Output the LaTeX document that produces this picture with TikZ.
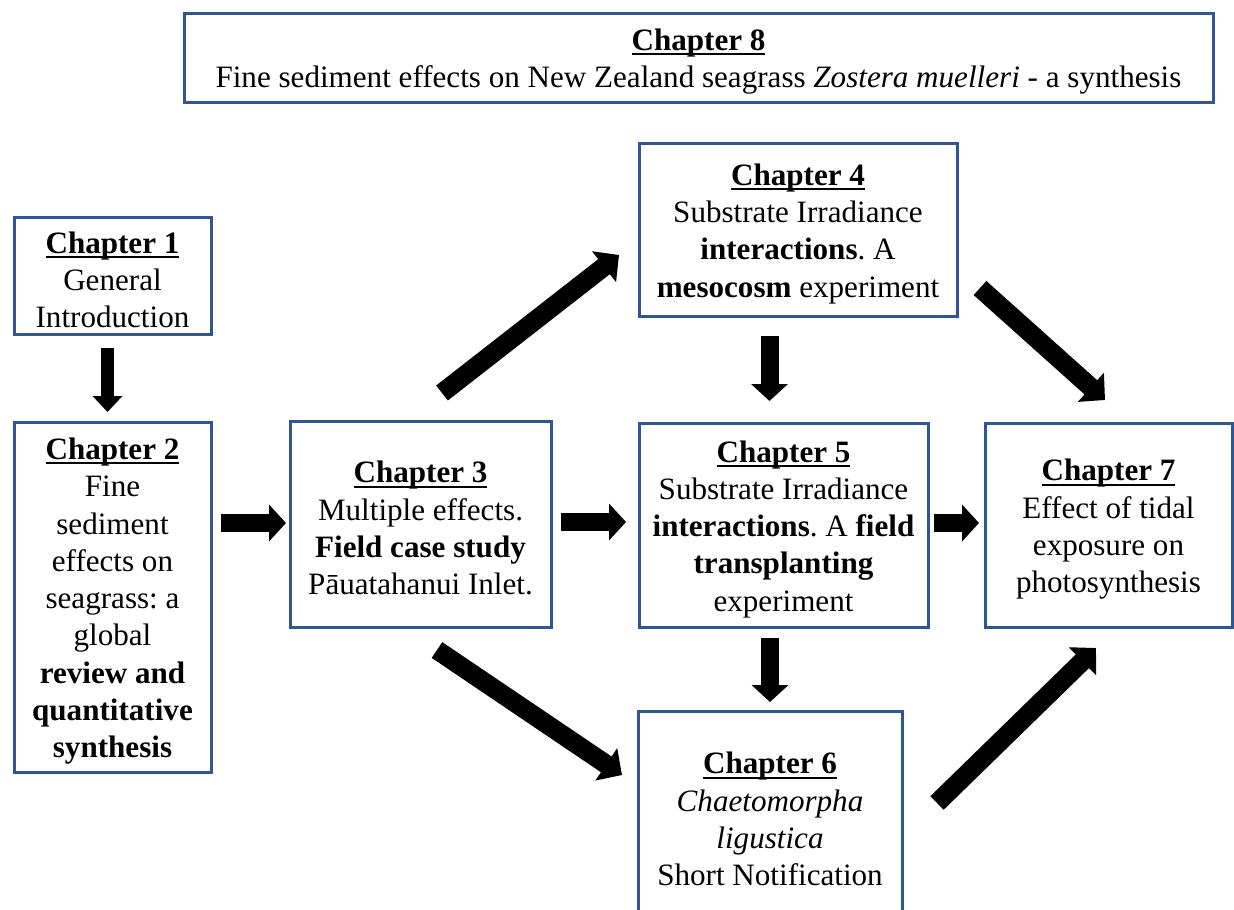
\documentclass[tikz,border=0pt]{standalone}
\usepackage{fontspec}
\setmainfont{Liberation Serif}
\usetikzlibrary{arrows.meta,calc}
\definecolor{boxblue}{RGB}{47,85,151}
\frenchspacing
% bold chapter heading with a close underline; the strut lowers the text block a little
\newcommand\chaphead[1]{\rule{0pt}{30pt}\setbox0\hbox{\textbf{#1}}\rlap{\rule[-5pt]{\wd0}{2pt}}\box0}

\begin{document}
\begin{tikzpicture}[x=1pt,y=-1pt,
  chapbox/.style={draw=boxblue, line width=3pt, inner sep=0pt, outer sep=0pt,
    align=center, anchor=north west, font=\fontsize{31.1}{37.3}\selectfont},
  flow/.style={line width=18pt, -{Triangle[width=36pt,length=17pt]}},
  diagflow/.style={line width=19pt, -{Triangle[width=38pt,length=19pt]}},
  thinflow/.style={line width=13pt, -{Triangle[width=29pt,length=16pt]}}
]
\useasboundingbox (0,0) rectangle (1234,910);
\clip (0,0) rectangle (1234,910);

% chapter boxes
\node[chapbox, minimum width=1029pt, minimum height=89pt] (ch8) at (184,13)
  {\chaphead{Chapter 8}\\ Fine sediment effects on New Zealand seagrass \textit{Zostera muelleri} - a synthesis};
\node[chapbox, minimum width=197pt, minimum height=117pt] (ch1) at (14,217)
  {\chaphead{Chapter 1}\\ General\\ Introduction};
\node[chapbox, minimum width=197pt, minimum height=350pt] (ch2) at (14,422)
  {\chaphead{Chapter 2}\\ Fine\\ sediment\\ effects on\\ seagrass: a\\ global\\ \textbf{review and}\\ \textbf{quantitative}\\ \textbf{synthesis}};
\node[chapbox, minimum width=261pt, minimum height=206pt] (ch3) at (290,421)
  {\chaphead{Chapter 3}\\ Multiple effects.\\ \textbf{Field case study}\\ Pāuatahanui Inlet.};
\node[chapbox, minimum width=318pt, minimum height=173pt] (ch4) at (639,143)
  {\chaphead{Chapter 4}\\ Substrate Irradiance\\ \textbf{interactions}. A\\ \textbf{mesocosm} experiment};
\node[chapbox, minimum width=289pt, minimum height=204pt] (ch5) at (639,423)
  {\chaphead{Chapter 5}\\ Substrate Irradiance\\ \textbf{interactions}. A \textbf{field}\\ \textbf{transplanting}\\ experiment};
\node[chapbox, minimum width=247pt, minimum height=204pt] (ch7) at (985,423)
  {\chaphead{Chapter 7}\\ Effect of tidal\\ exposure on\\ photosynthesis};
\node[chapbox, minimum width=264pt, minimum height=208pt] (ch6) at (638,711)
  {\chaphead{Chapter 6}\\ \textit{Chaetomorpha}\\ \textit{ligustica}\\ Short Notification};

% straight connectors
\draw[thinflow, shorten <=14pt, shorten >=10pt]
  ([xshift=-5pt]ch1.south) -- ([xshift=-5pt]ch2.north);
\draw[flow, shorten <=10pt, shorten >=4pt] ([yshift=1pt]ch2.east |- ch3.west) -- ([yshift=1pt]ch3.west);
\draw[flow, shorten <=10pt, shorten >=13pt] ([yshift=2pt]ch3.east) -- ([yshift=2pt]ch3.east -| ch5.west);
\draw[flow, shorten <=6pt, shorten >=6pt] ([yshift=2pt]ch5.east) -- ([yshift=2pt]ch5.east -| ch7.west);
\draw[flow, shorten <=20pt, shorten >=22pt] ([xshift=-14pt]ch5.north |- ch4.south) -- ([xshift=-14pt]ch5.north);
\draw[flow, shorten <=11pt, shorten >=9pt] (ch6.north |- ch5.south) -- (ch6.north);

% diagonal connectors
\draw[diagflow] ($(ch3.north)+(21.5,-28)$) -- ($(ch4.south west)+(-20,-61)$);
\draw[diagflow] ($(ch4.south east)+(23,-28)$) -- ($(ch7.north)+(-3.5,-23)$);
\draw[diagflow] ($(ch3.south)+(16.5,23)$) -- ($(ch6.north west)+(-16,64)$);
\draw[diagflow] ($(ch6.north east)+(35,92)$) -- ($(ch7.south)+(-12.5,21)$);
\end{tikzpicture}
\end{document}
